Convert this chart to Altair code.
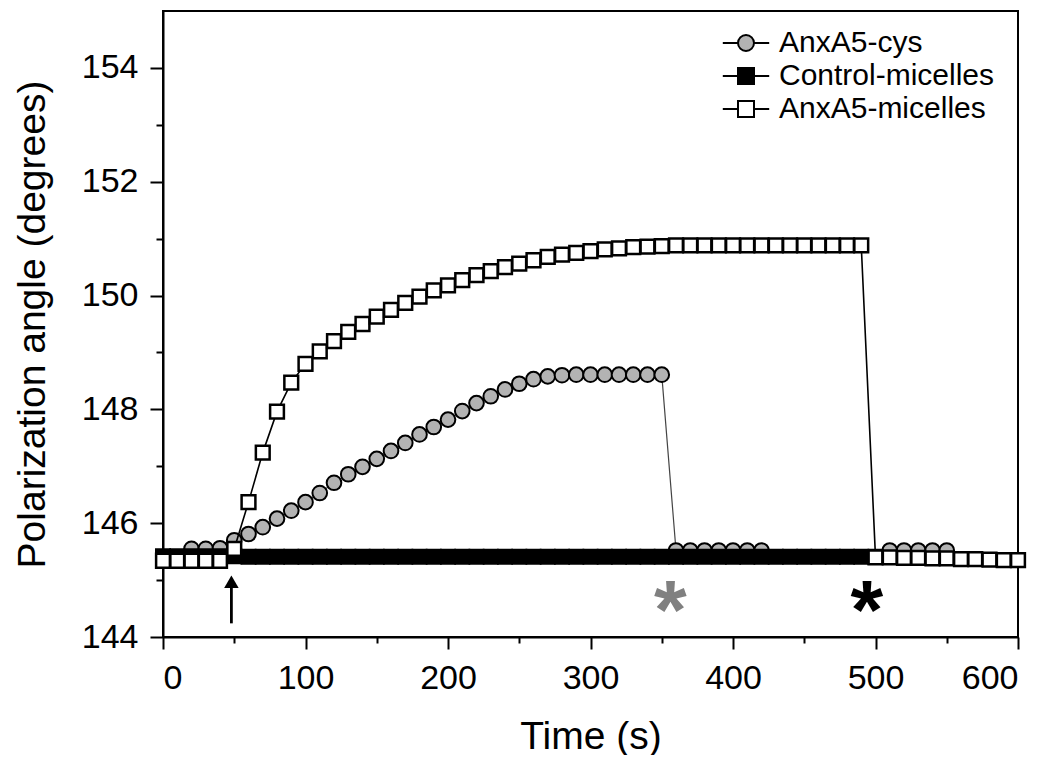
import altair as alt
import pandas as pd

FONT = "Liberation Sans"
names = ["AnxA5-cys", "Control-micelles", "AnxA5-micelles"]

# AnxA5-cys (grey circles), two segments
cys_time = [20, 30, 40, 50, 60, 70, 80, 90, 100, 110, 120, 130, 140, 150, 160, 170, 180,
            190, 200, 210, 220, 230, 240, 250, 260, 270, 280, 290, 300, 310, 320, 330, 340, 350,
            360, 370, 380, 390, 400, 410, 420,
            510, 520, 530, 540, 550]
cys_value = [145.55, 145.55, 145.56, 145.70, 145.81, 145.93, 146.08, 146.22, 146.37, 146.53,
             146.71, 146.86, 146.99, 147.13, 147.27, 147.41, 147.56, 147.69, 147.82, 147.97,
             148.11, 148.23, 148.35, 148.45, 148.53, 148.58, 148.60, 148.61, 148.61, 148.61,
             148.61, 148.61, 148.61, 148.61,
             145.52, 145.52, 145.52, 145.52, 145.52, 145.52, 145.52,
             145.52, 145.52, 145.52, 145.52, 145.52]
cys_segment = [1] * 34 + [1] * 7 + [2] * 5

# Control-micelles (black squares)
ctrl_time = [0, 10, 20, 30, 40, 50, 60, 70, 80, 90, 100, 110, 120, 130, 140, 150, 160, 170,
             180, 190, 200, 210, 220, 230, 240, 250, 260, 270, 280, 290, 300, 310, 320, 330,
             340, 350, 360, 370, 380, 390, 400, 410, 420, 430, 440, 450, 460, 470, 480, 490, 500]
ctrl_value = [145.42, 145.42, 145.42, 145.42, 145.42, 145.42, 145.41, 145.41, 145.41, 145.41,
              145.41, 145.41, 145.41, 145.41, 145.41, 145.41, 145.41, 145.41, 145.41, 145.41,
              145.41, 145.41, 145.41, 145.41, 145.41, 145.41, 145.41, 145.41, 145.41, 145.41,
              145.41, 145.41, 145.41, 145.41, 145.41, 145.41, 145.41, 145.41, 145.41, 145.41,
              145.41, 145.41, 145.41, 145.41, 145.41, 145.41, 145.41, 145.41, 145.41, 145.41,
              145.41]

# AnxA5-micelles (open squares)
mic_time = [0, 10, 20, 30, 40, 50, 60, 70, 80, 90, 100, 110, 120, 130, 140, 150, 160, 170,
            180, 190, 200, 210, 220, 230, 240, 250, 260, 270, 280, 290, 300, 310, 320, 330,
            340, 350, 360, 370, 380, 390, 400, 410, 420, 430, 440, 450, 460, 470, 480, 490,
            500, 510, 520, 530, 540, 550, 560, 570, 580, 590, 600]
mic_value = [145.34, 145.34, 145.34, 145.34, 145.34, 145.55, 146.37, 147.24, 147.96, 148.47,
             148.80, 149.02, 149.20, 149.36, 149.50, 149.63, 149.75, 149.87, 149.98, 150.09,
             150.18, 150.27, 150.36, 150.43, 150.50, 150.56, 150.62, 150.68, 150.72, 150.75,
             150.78, 150.81, 150.83, 150.85, 150.86, 150.87, 150.88, 150.88, 150.88, 150.88,
             150.88, 150.88, 150.88, 150.88, 150.88, 150.88, 150.88, 150.88, 150.88, 150.88,
             145.40, 145.40, 145.39, 145.39, 145.38, 145.38, 145.37, 145.37, 145.36, 145.35,
             145.35]

# annotations
arrow_time = [48]
arrow_from = [144.24]
arrow_to = [144.90]
arrow_head = [144.97]
star_time = [356, 494]
star_value = [144.69, 144.69]
star_color = ["#808080", "#000000"]

x_ticks = [0, 50, 100, 150, 200, 250, 300, 350, 400, 450, 500, 550, 600]
y_ticks = [144, 145, 146, 147, 148, 149, 150, 151, 152, 153, 154]

cys = pd.DataFrame({"t": cys_time, "v": cys_value, "seg": cys_segment})
ctrl = pd.DataFrame({"t": ctrl_time, "v": ctrl_value})
mic = pd.DataFrame({"t": mic_time, "v": mic_value})
arrow = pd.DataFrame({"t": arrow_time, "v0": arrow_from, "v1": arrow_to, "vh": arrow_head})
stars = pd.DataFrame({"t": star_time, "v": star_value, "c": star_color})
legend_df = pd.DataFrame({"series": names})

xs = alt.Scale(domain=[0, 600], nice=False, zero=False)
ys = alt.Scale(domain=[144, 155], nice=False, zero=False)

x_axis = alt.Axis(
    values=x_ticks,
    labelExpr="datum.value % 100 === 0 ? datum.label : ''",
    tickSize={"condition": {"test": "datum.value % 100 === 0", "value": 12}, "value": 6},
    title="Time (s)",
)
y_axis = alt.Axis(
    values=y_ticks,
    labelExpr="datum.value % 2 === 0 ? datum.label : ''",
    tickSize={"condition": {"test": "datum.value % 2 === 0", "value": 13}, "value": 7},
    title="Polarization angle (degrees)",
)

X = alt.X("t:Q", scale=xs, axis=x_axis)
Y = alt.Y("v:Q", scale=ys, axis=y_axis)

cys_line = alt.Chart(cys).mark_line(color="#444444", strokeWidth=1.2).encode(
    x=X, y=Y, detail="seg:N", order="t:Q")
cys_pts = alt.Chart(cys).mark_point(shape="circle", filled=True, fill="#b3b3b3",
                                    stroke="black", strokeWidth=2, size=215, opacity=1).encode(x=X, y=Y)
ctrl_pts = alt.Chart(ctrl).mark_point(shape="square", filled=True, fill="black",
                                      stroke="black", strokeWidth=2, size=196, opacity=1).encode(x=X, y=Y)
mic_line = alt.Chart(mic).mark_line(color="black", strokeWidth=1.6).encode(x=X, y=Y, order="t:Q")
mic_pts = alt.Chart(mic).mark_point(shape="square", filled=True, fill="white",
                                    stroke="black", strokeWidth=2.5, size=190, opacity=1).encode(x=X, y=Y)

arrow_shaft = alt.Chart(arrow).mark_rule(color="black", strokeWidth=2.8).encode(
    x=X, y=alt.Y("v0:Q", scale=ys, axis=y_axis), y2="v1:Q")
arrow_tip = alt.Chart(arrow).mark_point(shape="triangle-up", filled=True, color="black",
                                        size=210, opacity=1).encode(
    x=X, y=alt.Y("vh:Q", scale=ys, axis=y_axis))

star_marks = alt.Chart(stars).mark_text(text="*", font=FONT, fontSize=84, fontWeight="bold",
                                        baseline="middle", dy=16).encode(
    x=X, y=Y, color=alt.Color("c:N", scale=None))

circle_path = "M-1.45,0L-0.5,0M0.5,0L1.45,0M-0.5,0A0.5,0.5,0,1,0,0.5,0A0.5,0.5,0,1,0,-0.5,0Z"
square_path = "M-1.45,0L-0.5,0M0.5,0L1.45,0M-0.5,-0.5L0.5,-0.5L0.5,0.5L-0.5,0.5Z"
legend = alt.Legend(orient="none", legendX=566, legendY=15, title=None, labelFont=FONT,
                    labelFontSize=30, labelColor="black", labelLimit=0, symbolSize=1024,
                    symbolStrokeWidth=2, symbolStrokeColor="black", symbolOpacity=1,
                    labelOffset=16, rowPadding=1, padding=0)
legend_layer = alt.Chart(legend_df).transform_filter("false").mark_point(
    filled=True, strokeWidth=2, size=1024, opacity=1).encode(
    shape=alt.Shape("series:N", scale=alt.Scale(domain=names,
                    range=[circle_path, square_path, square_path]), legend=legend),
    fill=alt.Fill("series:N", scale=alt.Scale(domain=names,
                  range=["#b3b3b3", "black", "white"]), legend=legend),
    stroke=alt.Stroke("series:N", scale=alt.Scale(domain=names,
                      range=["black", "black", "black"]), legend=legend),
)

chart = alt.layer(
    cys_line, cys_pts, ctrl_pts, mic_line, mic_pts, arrow_shaft, arrow_tip, star_marks, legend_layer
).properties(
    width=855, height=626,
    autosize=alt.AutoSizeParams(type="none"),
    padding={"left": 155, "top": 3, "right": 20, "bottom": 118},
).configure_view(
    stroke="black", strokeWidth=2
).configure_axis(
    grid=False, domainColor="black", domainWidth=2, tickColor="black", tickWidth=2,
    labelFont=FONT, labelFontSize=34, labelColor="black", labelPadding=12,
    titleFont=FONT, titleFontSize=39, titleFontWeight="normal", titleColor="black",
).configure_axisX(titlePadding=22).configure_axisY(titlePadding=29)

chart.save("out.html", embed_options={"renderer": "svg", "actions": False})
